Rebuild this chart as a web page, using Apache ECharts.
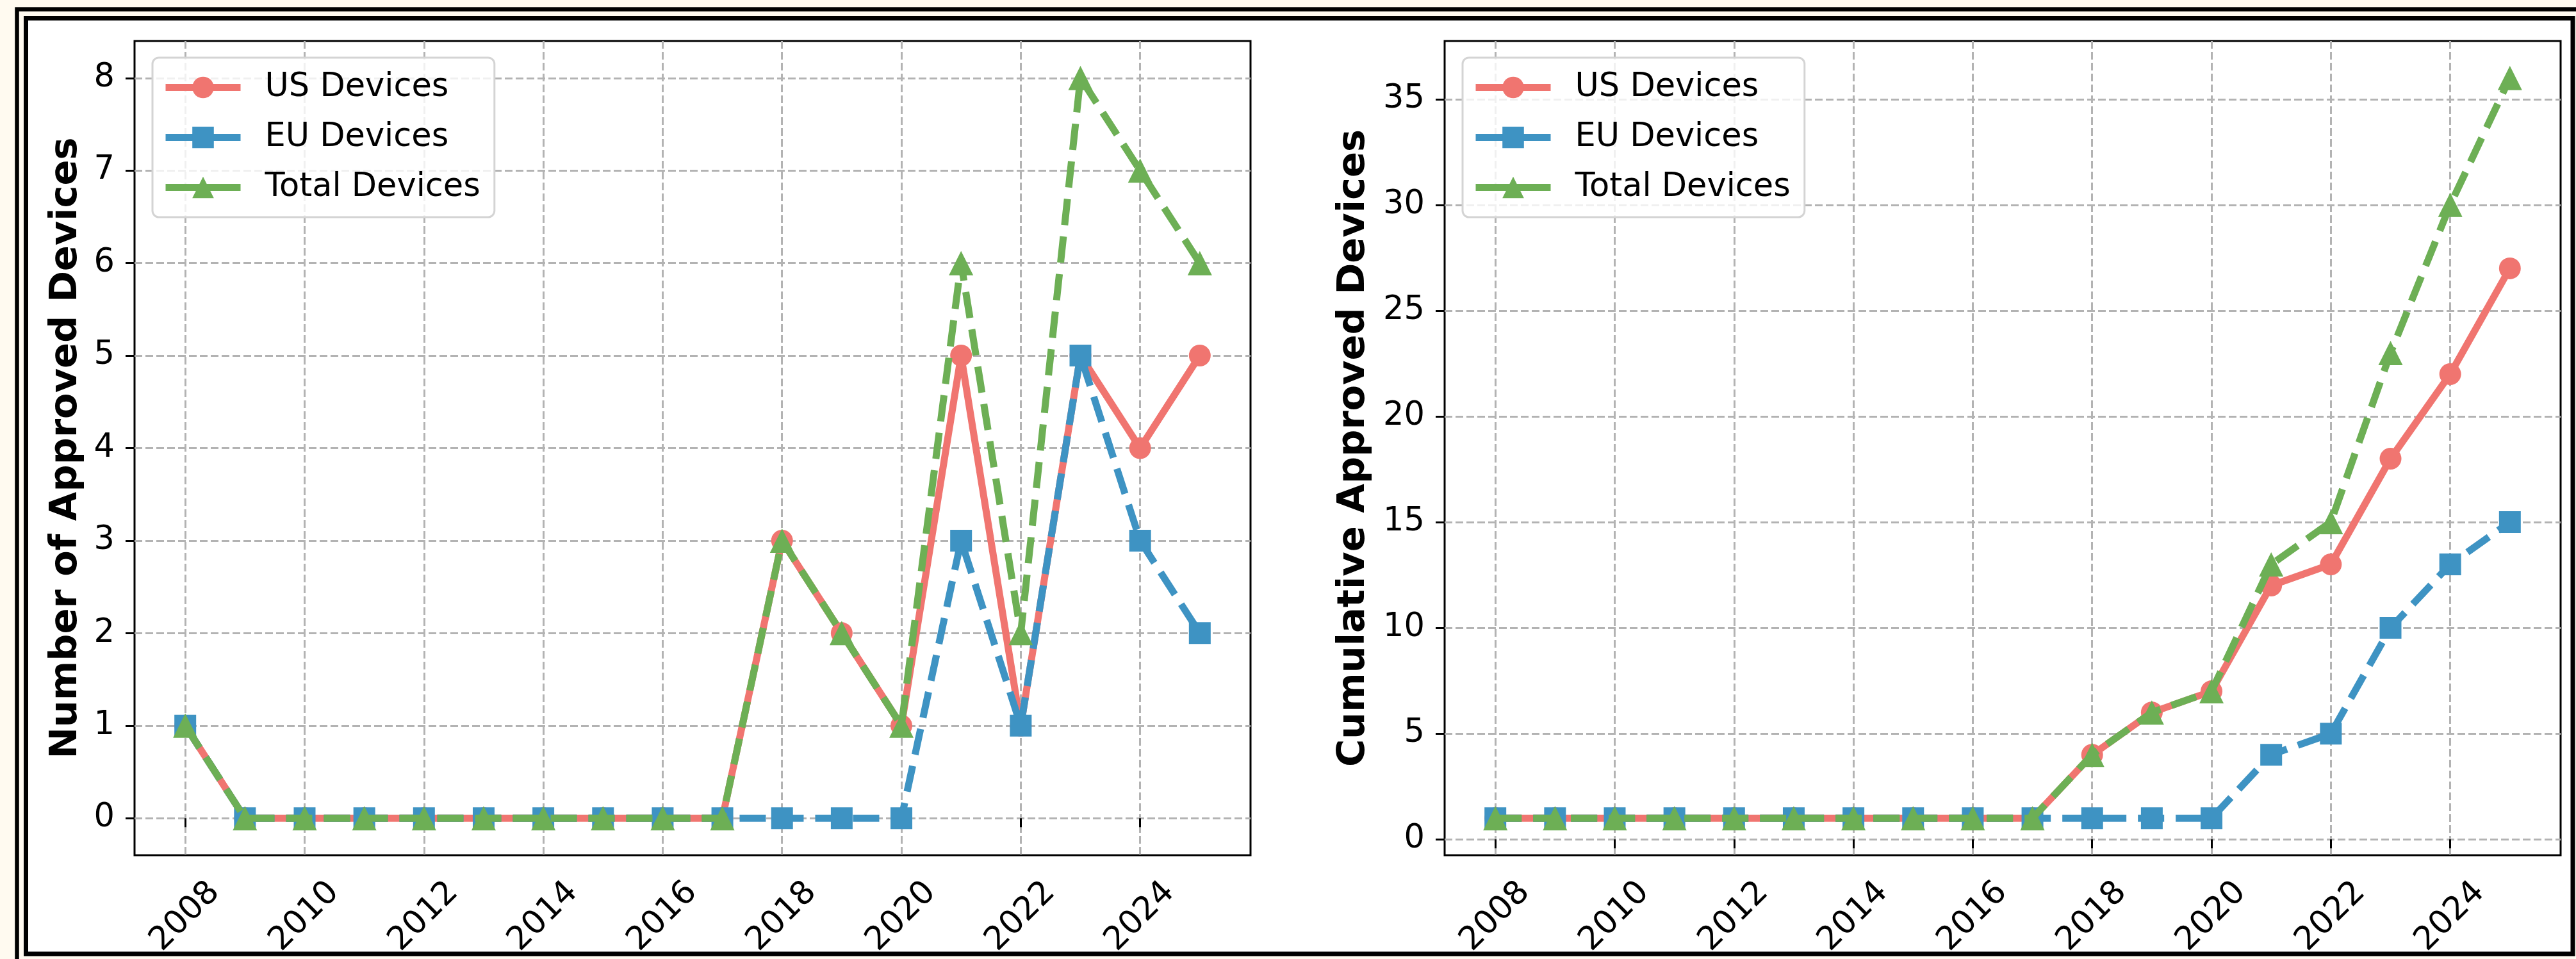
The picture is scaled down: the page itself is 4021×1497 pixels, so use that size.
<!DOCTYPE html>
<html>
<head>
<meta charset="utf-8">
<title>Approved Devices</title>
<script src="https://cdn.jsdelivr.net/npm/echarts@6/dist/echarts.min.js"></script>
<style>
  html, body { margin: 0; padding: 0; background: #fffaf0; }
  #chart { width: 4021px; height: 1497px; }
</style>
</head>
<body>
<div id="chart"></div>
<script>
// Approval years
const years = [2008, 2009, 2010, 2011, 2012, 2013, 2014, 2015, 2016, 2017,
               2018, 2019, 2020, 2021, 2022, 2023, 2024, 2025];

// Devices approved per year
const usAnnual    = [1, 0, 0, 0, 0, 0, 0, 0, 0, 0, 3, 2, 1, 5, 1, 5, 4, 5];
const euAnnual    = [1, 0, 0, 0, 0, 0, 0, 0, 0, 0, 0, 0, 0, 3, 1, 5, 3, 2];
const totalAnnual = [1, 0, 0, 0, 0, 0, 0, 0, 0, 0, 3, 2, 1, 6, 2, 8, 7, 6];

// Running totals
const usCumulative    = [1, 1, 1, 1, 1, 1, 1, 1, 1, 1, 4, 6, 7, 12, 13, 18, 22, 27];
const euCumulative    = [1, 1, 1, 1, 1, 1, 1, 1, 1, 1, 1, 1, 1, 4, 5, 10, 13, 15];
const totalCumulative = [1, 1, 1, 1, 1, 1, 1, 1, 1, 1, 4, 6, 7, 13, 15, 23, 30, 36];

// Tick labels
const yearTicks = [2008, 2010, 2012, 2014, 2016, 2018, 2020, 2022, 2024];
const annualTicks = [0, 1, 2, 3, 4, 5, 6, 7, 8];
const cumulativeTicks = [0, 5, 10, 15, 20, 25, 30, 35];

const seriesNames = ['US Devices', 'EU Devices', 'Total Devices'];
const colors = ['#f07570', '#3e93c3', '#6daf55'];

const FONT = 'DejaVu Sans';
const LW = 11;
const DASH = [41, 18];

function pairs(vals) { return years.map((y, i) => [y, vals[i]]); }

// axis extents padded by 5% of the data span on each side
function padded(lo, hi) { const m = (hi - lo) * 0.05; return [lo - m, hi + m]; }
const xExt = padded(years[0], years[years.length - 1]);
const yAnnExt = padded(0, 8);
const yCumExt = padded(1, 36);

const gridLine = { show: true, lineStyle: { color: '#b3b3b3', width: 3, type: [12, 5] } };
const tick = { show: true, inside: false, length: 14, lineStyle: { color: '#000', width: 3 } };

function xAxis(gridIndex) {
  return {
    type: 'value', gridIndex, min: xExt[0], max: xExt[1],
    axisLine: { show: false },
    axisTick: Object.assign({ customValues: yearTicks }, tick),
    splitLine: gridLine,
    axisLabel: {
      customValues: yearTicks, rotate: 45, align: 'center', verticalAlign: 'middle',
      margin: 96, fontSize: 51, fontFamily: FONT, color: '#000',
      formatter: v => String(v)
    }
  };
}

function yAxis(gridIndex, ext, ticks, name, gap) {
  return {
    type: 'value', gridIndex, min: ext[0], max: ext[1],
    name, nameLocation: 'middle', nameRotate: 90, nameGap: gap,
    nameTextStyle: { fontSize: 59, fontWeight: 'bold', fontFamily: FONT, color: '#000' },
    axisLine: { show: false },
    axisTick: Object.assign({ customValues: ticks }, tick),
    splitLine: gridLine,
    axisLabel: {
      customValues: ticks, margin: 31, fontSize: 51, fontFamily: FONT, color: '#000',
      formatter: v => String(v)
    }
  };
}

function lineSeries(i, idx, vals) {
  const symbols = ['circle', 'rect', 'triangle'];
  const sizes = [34, 34, 38];
  return {
    type: 'line', name: seriesNames[i], xAxisIndex: idx, yAxisIndex: idx,
    data: pairs(vals),
    symbol: symbols[i], symbolSize: sizes[i], showSymbol: true, showAllSymbol: true,
    itemStyle: { color: colors[i] },
    lineStyle: { color: colors[i], width: LW, type: i === 0 ? 'solid' : DASH, join: 'round', cap: 'butt' },
    emphasis: { disabled: true },
    z: 2 + i
  };
}

function legend(left) {
  return {
    data: seriesNames, orient: 'vertical', left, top: 90,
    padding: [21, 22, 21, 15],
    itemWidth: 117, itemHeight: 42, itemGap: 27,
    backgroundColor: 'rgba(255,255,255,0.8)',
    borderColor: '#d4d4d4', borderWidth: 3, borderRadius: 10,
    lineStyle: { type: 'solid', width: LW },
    textStyle: { fontSize: 51, fontFamily: FONT, color: '#000', lineHeight: 50, padding: [0, 0, 0, 33] },
    selectedMode: false
  };
}

const chart = echarts.init(document.getElementById('chart'), null, { renderer: 'canvas' });
chart.setOption({
  animation: false,
  backgroundColor: '#fffaf0',
  graphic: [
    { type: 'rect', z: -10, shape: { x: 26.5, y: 14.5, width: 4100, height: 1600 },
      style: { fill: 'none', stroke: '#000', lineWidth: 6.5 } },
    { type: 'rect', z: -9, shape: { x: 40.5, y: 28.5, width: 3975.5, height: 1460.5 },
      style: { fill: '#ffffff', stroke: '#000', lineWidth: 7 } }
  ],
  grid: [
    { left: 210, top: 64, width: 1742, height: 1273, show: true, borderColor: '#000', borderWidth: 3, backgroundColor: 'transparent' },
    { left: 2255, top: 64, width: 1742, height: 1273, show: true, borderColor: '#000', borderWidth: 3, backgroundColor: 'transparent' }
  ],
  legend: [legend(238), legend(2283)],
  xAxis: [xAxis(0), xAxis(1)],
  yAxis: [
    yAxis(0, yAnnExt, annualTicks, 'Number of Approved Devices', 77),
    yAxis(1, yCumExt, cumulativeTicks, 'Cumulative Approved Devices', 112)
  ],
  series: [
    lineSeries(0, 0, usAnnual),
    lineSeries(1, 0, euAnnual),
    lineSeries(2, 0, totalAnnual),
    lineSeries(0, 1, usCumulative),
    lineSeries(1, 1, euCumulative),
    lineSeries(2, 1, totalCumulative)
  ]
});
</script>
</body>
</html>
